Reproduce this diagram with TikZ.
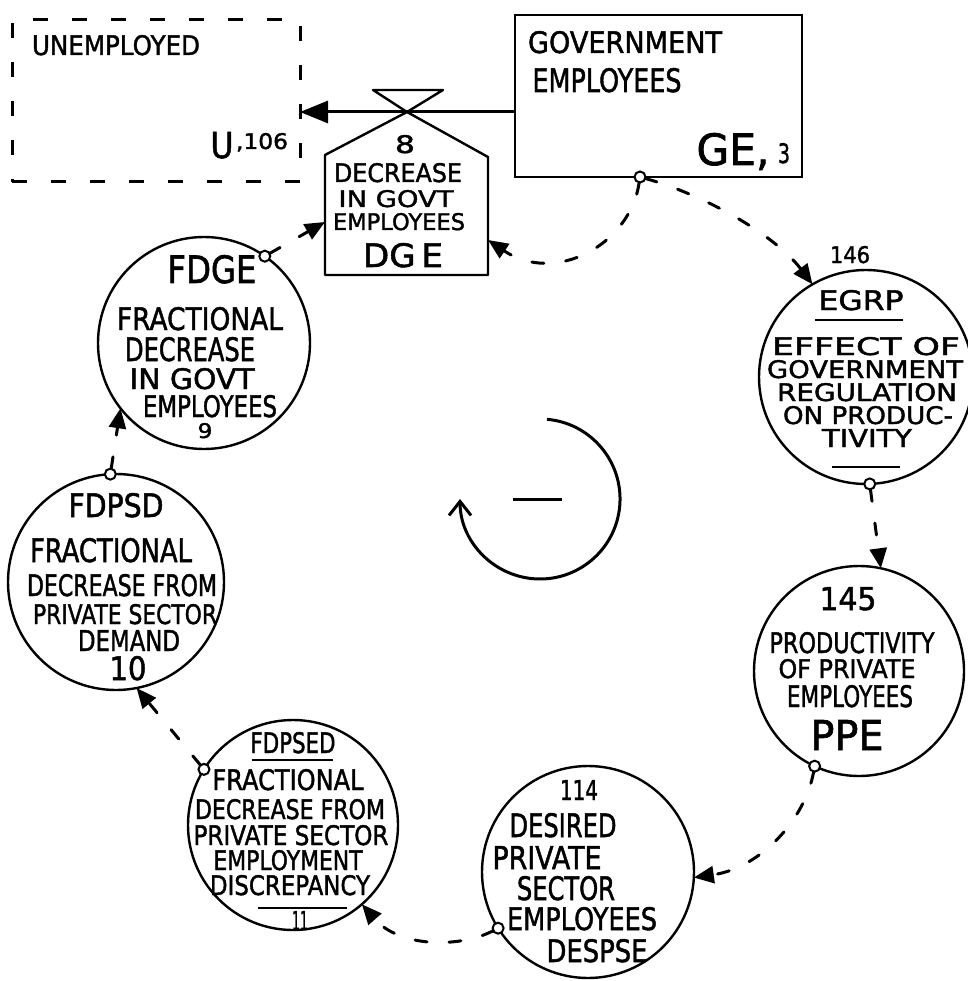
\documentclass[tikz,border=0pt]{standalone}
\usepackage{fontspec}
\usepackage{graphicx}
\newfontfamily\hand[FakeBold=1.6]{DejaVu Sans}
\usetikzlibrary{arrows.meta}
\newcommand{\hw}[3]{\resizebox{#1pt}{#2pt}{\hand #3}}
\begin{document}
\begin{tikzpicture}[x=1pt,y=-1pt,
  txt/.style={anchor=base, inner sep=0pt, outer sep=0pt},
  aux/.style={circle, draw, line width=2.4pt, inner sep=0pt, outer sep=0pt},
  tap/.style={circle, draw, fill=white, line width=2pt, minimum size=11pt, inner sep=0pt, outer sep=0pt},
  info/.style={line width=3pt, dash pattern=on 12pt off 22pt, line cap=round, -{Triangle[length=20pt,width=17pt]}},
  flow/.style={line width=3pt, -{Triangle[length=28pt,width=22pt]}},
  rule/.style={line width=2pt},
  stock/.style={draw, line width=2.4pt, inner sep=0pt, outer sep=0pt},
  cloud/.style={draw, line width=3pt, dash pattern=on 15pt off 24pt, inner sep=0pt, outer sep=0pt},
]
\useasboundingbox[fill=white] (0,0) rectangle (967,981);

% levels
\node[cloud, minimum width=288pt, minimum height=162pt] (u) at (156,101) {};
\node[stock, minimum width=287pt, minimum height=162pt] (ge) at (658.5,96) {};

% rate (valve + pentagon)
\coordinate (apex) at (407,112);
\coordinate (dgeL) at (325,222);
\coordinate (dgeR) at (488,240);
\draw[line width=2.4pt, line join=round] (373,90) -- (443,90) -- (apex) -- cycle;
\draw[line width=2.4pt, line join=round] (apex) -- (325,155) -- (325,275) -- (488,275) -- (488,157) -- cycle;
\draw[flow] (ge.west |- apex) -- (u.east |- apex);

% auxiliaries
\node[aux, minimum size=212pt] (fdge) at (204,343) {};
\node[aux, minimum size=214pt] (egrp) at (866,377) {};
\node[aux, minimum size=210pt] (ppe) at (859,671) {};
\node[aux, minimum size=212pt] (despse) at (588,872) {};
\node[aux, minimum size=210pt] (fdpsed) at (293,825) {};
\node[aux, minimum size=216pt] (fdpsd) at (116,582) {};

% taps
\node[tap] (geT) at (640,177) {};
\node[tap] (egrpT) at (egrp.-88) {};
\node[tap] (ppeT) at (ppe.-115) {};
\node[tap] (despseT) at (despse.-148) {};
\node[tap] (fdpsedT) at (fdpsed.148) {};
\node[tap] (fdpsdT) at (fdpsd.93) {};
\node[tap] (fdgeT) at (fdge.55) {};

% information links
\draw[info] (geT) .. controls (630,245) and (555,285) .. (dgeR);
\draw[info] (geT) .. controls (705,195) and (775,235) .. (egrp.120);
\draw[info] (egrpT) -- (ppe.78);
\draw[info] (ppeT) .. controls (805,820) and (760,868) .. (despse.-3);
\draw[info] (despseT) .. controls (460,948) and (400,948) .. (fdpsed.-49);
\draw[info] (fdpsedT) -- (fdpsd.-79);
\draw[info] (fdpsdT) -- (fdge.218);
\draw[info] (fdgeT) -- (dgeL);

% loop polarity
\draw[line width=3pt, -{Straight Barb[length=14pt,width=22pt,line width=3pt]}] (547,419.3) arc[start angle=-85, end angle=180, radius=80];
\draw[line width=3pt] (513,499) -- (562,499);

% texts: unemployed
\node[txt] (tU1) at (116,55) {\hw{168}{20}{UNEMPLOYED}};
\node[txt] (tU2) at (222,158) {\hw{23}{26}{U}};
\node[txt, anchor=base west] (tU3) at (236,149) {\hw{52}{16}{,106}};

% government employees
\node[txt] (tG1) at (625,53) {\hw{194}{22}{GOVERNMENT}};
\node[txt] (tG2) at (607,92) {\hw{149}{24}{EMPLOYEES}};
\node[txt] (tG3) at (733,165) {\hw{73}{32}{GE,}};
\node[txt] (tG4) at (784,163) {\hw{12}{20}{3}};

% rate
\node[txt] (tD1) at (405,153) {\hw{20}{18}{8}};
\node[txt] (tD2) at (398,182) {\hw{128}{19}{DECREASE}};
\node[txt] (tD3) at (396,207) {\hw{115}{17}{IN GOVT}};
\node[txt] (tD4) at (399,230) {\hw{132}{17}{EMPLOYEES}};
\node[txt] (tD5) at (403,267) {\hw{80}{24}{DG\,E}};

% FDGE
\node[txt] (tF1) at (212,283) {\hw{89}{28}{FDGE}};
\node[txt] (tF2) at (200,330) {\hw{166}{23}{FRACTIONAL}};
\node[txt] (tF3) at (190,361) {\hw{130}{24}{DECREASE}};
\node[txt] (tF4) at (192,389) {\hw{125}{21}{IN GOVT}};
\node[txt] (tF5) at (210,417) {\hw{134}{22}{EMPLOYEES}};
\node[txt] (tF6) at (205,438) {\hw{15}{15}{9}};

% EGRP
\node[txt] (tE0) at (850,263) {\hw{40}{17}{146}};
\node[txt] (tE1) at (861,310) {\hw{85}{20}{EGRP}};
\draw[rule] (815,320) -- (903,320);
\node[txt] (tE2) at (866,355) {\hw{188}{18}{EFFECT OF}};
\node[txt] (tE3) at (865,378) {\hw{196}{18}{GOVERNMENT}};
\node[txt] (tE4) at (867,401) {\hw{180}{18}{REGULATION}};
\node[txt] (tE5) at (868,424) {\hw{170}{18}{ON PRODUC-}};
\node[txt] (tE6) at (867,447) {\hw{90}{18}{TIVITY}};
\draw[rule] (832,467) -- (900,467);

% PPE
\node[txt] (tP0) at (848,610) {\hw{57}{23}{145}};
\node[txt] (tP1) at (852,653) {\hw{165}{21}{PRODUCTIVITY}};
\node[txt] (tP2) at (847,678) {\hw{137}{19}{OF PRIVATE}};
\node[txt] (tP3) at (850,707) {\hw{126}{22}{EMPLOYEES}};
\node[txt] (tP4) at (847,750) {\hw{73}{30}{PPE}};

% DESPSE
\node[txt] (tS0) at (579,800) {\hw{38}{20}{114}};
\node[txt] (tS1) at (563,837) {\hw{107}{24}{DESIRED}};
\node[txt] (tS2) at (547,869) {\hw{109}{23}{PRIVATE}};
\node[txt] (tS3) at (566,900) {\hw{98}{24}{SECTOR}};
\node[txt] (tS4) at (582,930) {\hw{150}{23}{EMPLOYEES}};
\node[txt] (tS5) at (597,962) {\hw{101}{23}{DESPSE}};

% FDPSED
\node[txt] (tQ1) at (293,753) {\hw{85}{21}{FDPSED}};
\draw[rule] (252,760) -- (333,760);
\node[txt] (tQ2) at (288,790) {\hw{151}{21}{FRACTIONAL}};
\node[txt] (tQ3) at (290,819) {\hw{190}{20}{DECREASE FROM}};
\node[txt] (tQ4) at (291,845) {\hw{195}{20}{PRIVATE SECTOR}};
\node[txt] (tQ5) at (288,870) {\hw{149}{20}{EMPLOYMENT}};
\node[txt] (tQ6) at (290,895) {\hw{160}{20}{DISCREPANCY}};
\draw[rule] (258,908) -- (347,908);
\node[txt] (tQ7) at (300,930) {\hw{16}{19}{11}};

% FDPSD
\node[txt] (tR1) at (116,517) {\hw{95}{24}{FDPSD}};
\node[txt] (tR2) at (111,562) {\hw{162}{24}{FRACTIONAL}};
\node[txt] (tR3) at (122,596) {\hw{190}{22}{DECREASE FROM}};
\node[txt] (tR4) at (125,624) {\hw{184}{20}{PRIVATE SECTOR}};
\node[txt] (tR5) at (129,651) {\hw{102}{21}{DEMAND}};
\node[txt] (tR6) at (128,680) {\hw{37}{24}{10}};
\end{tikzpicture}
\end{document}
